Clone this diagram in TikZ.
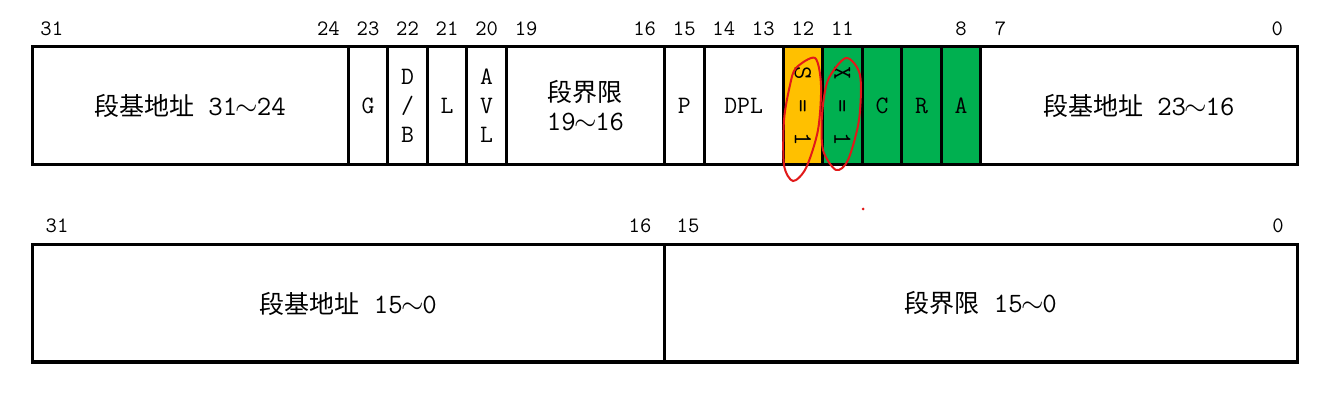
\documentclass[tikz,border=0pt]{standalone}
\usepackage{fontspec}
\usepackage{tikz}
\usetikzlibrary{positioning}
\newfontfamily\cjk{Noto Sans CJK SC}
\definecolor{sbit}{RGB}{255,192,0}
\definecolor{tbit}{RGB}{0,176,80}
\definecolor{pen}{RGB}{225,25,25}
\newlength\bitw \setlength\bitw{19.766pt}
\newcommand\zh[1]{{\cjk\fontsize{12.5}{15}\selectfont #1}}
\newcommand\rng[2]{{\ttfamily\fontsize{14}{16}\selectfont #1\makebox[0.7em]{$\sim$}#2}}
\tikzset{
  fld/.style={draw,line width=1.5pt,inner sep=0pt,outer sep=0pt,minimum height=59pt,
    minimum width=#1*\bitw,align=center,font=\ttfamily\fontsize{12.5}{14.5}\selectfont},
  fld/.default=1,
  vtext/.style={rotate=-90,font=\ttfamily\fontsize{13}{15}\selectfont},
  bitno/.style={anchor=base,font=\ttfamily\fontsize{11}{13}\selectfont},
  circled/.style={pen,line width=1pt}
}

\begin{document}
\begin{tikzpicture}[x=0.5pt,y=-0.5pt]
  \useasboundingbox (0,0) rectangle (1337,405);
  % high dword
  \node[fld=8,anchor=north west] (base3) at (32,47) {\zh{段基地址}\hspace{7pt}\rng{31}{24}};
  \node[fld,right=0pt of base3] (g) {G};
  \node[fld,right=0pt of g] (db) {D\\/\\B};
  \node[fld,right=0pt of db] (l) {L};
  \node[fld,right=0pt of l] (avl) {A\\V\\L};
  \node[fld=4,right=0pt of avl] (lim2) {\zh{段界限}\\\rng{19}{16}};
  \node[fld,right=0pt of lim2] (p) {P};
  \node[fld=2,right=0pt of p] (dpl) {DPL};
  \node[fld,fill=sbit,right=0pt of dpl] (s) {};
  \node[fld,fill=tbit,right=0pt of s] (x) {};
  \node[fld,fill=tbit,right=0pt of x] (c) {C};
  \node[fld,fill=tbit,right=0pt of c] (r) {R};
  \node[fld,fill=tbit,right=0pt of r] (a) {A};
  \node[fld=8,right=0pt of a] (base2) {\zh{段基地址}\hspace{7pt}\rng{23}{16}};
  \node[vtext] (stext) at (s) {S\hspace{3pt} = \hspace{3pt}1};
  \node[vtext] (xtext) at (x) {X\hspace{3pt} = \hspace{3pt}1};
  \foreach \b in {31,24,23,22,21,20,19,16,15,14,13,12,11,8,7,0}
    \node[bitno] (t\b) at ({32+(31.5-\b)*39.53},36) {\b};
  % low dword
  \node[fld=16,minimum height=58.5pt,anchor=north west] (base1) at (32,245) {\zh{段基地址}\hspace{7pt}\rng{15}{0}};
  \node[fld=16,minimum height=58.5pt,right=0pt of base1] (lim1) {\zh{段界限}\hspace{7pt}\rng{15}{0}};
  \foreach \b/\x in {31/57,16/640,15/688,0/1278}
    \node[bitno] (b\b) at (\x,233) {\b};
  % hand marks
  \draw[circled] plot[smooth cycle] coordinates {(796,68) (815,58) (821,85) (818,130) (806,168) (793,181) (784,165) (784,120) (790,85)};
  \draw[circled] plot[smooth cycle] coordinates {(828,80) (846,58) (860,75) (859,120) (848,160) (836,170) (823,150) (822,115)};
  \fill[pen] (863,209) circle (1.5);
\end{tikzpicture}
\end{document}
